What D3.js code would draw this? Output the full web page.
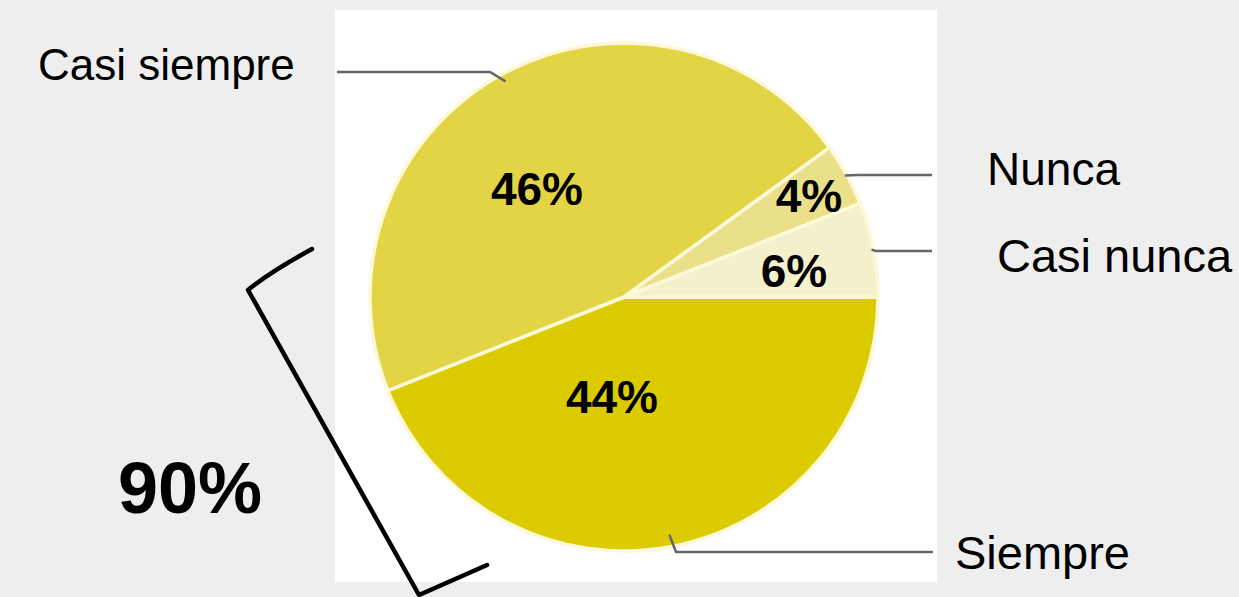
<!DOCTYPE html>
<html>
<head>
<meta charset="utf-8">
<script src="https://cdn.jsdelivr.net/npm/d3@7"></script>
<style>
  html, body { margin: 0; padding: 0; background: #eeeeee; }
  svg { display: block; }
</style>
</head>
<body>
<svg id="chart" width="1239" height="597"></svg>
<script>
// ---- data ----
const categories = ["Siempre", "Casi siempre", "Nunca", "Casi nunca"];
const values = [44, 46, 4, 6];
const percentLabels = ["44%", "46%", "4%", "6%"];
const groupLabel = "90%";
const colors = ["#dccb00", "#e2d445", "#ebe08a", "#f5f0cc"];

// ---- layout ----
const W = 1239, H = 597;
const cx = 624, cy = 297, R = 254;
const svg = d3.select("#chart");

svg.append("rect").attr("width", W).attr("height", H).attr("fill", "#eeeeee");
svg.append("rect").attr("x", 335).attr("y", 10).attr("width", 602).attr("height", 572).attr("fill", "#ffffff");

const pie = d3.pie().sort(null).value(d => d)
  .startAngle(Math.PI / 2).endAngle(Math.PI / 2 + 2 * Math.PI);
const arcs = pie(values);
const arc = d3.arc().innerRadius(0).outerRadius(R);

const g = svg.append("g").attr("transform", `translate(${cx},${cy})`);
g.selectAll("path.slice").data(arcs).join("path")
  .attr("class", "slice")
  .attr("d", arc)
  .attr("fill", (d, i) => colors[i])
  .attr("stroke", "#fcf8d8")
  .attr("stroke-width", 3.5)
  .attr("stroke-linejoin", "round");

// percent labels (positions in page coords)
const pctPos = [
  { x: 612, y: 413 },
  { x: 537, y: 205 },
  { x: 809, y: 212 },
  { x: 794, y: 287 }
];
svg.selectAll("text.pct").data(arcs).join("text")
  .attr("class", "pct")
  .attr("x", (d, i) => pctPos[i].x)
  .attr("y", (d, i) => pctPos[i].y)
  .attr("text-anchor", "middle")
  .attr("font-family", "Liberation Sans, Arial, sans-serif")
  .attr("font-weight", "bold")
  .attr("font-size", 46)
  .attr("fill", "#000")
  .text((d, i) => percentLabels[i]);

// leader lines: from slice mid-angle point to elbow to horizontal end
const leader = [
  { r: 242, ex: 676, ey: 552, hx: 933 },
  { r: 246, ex: 490, ey: 72, hx: 337 },
  { r: 252, ex: 858, ey: 175, hx: 932 },
  { r: 252, ex: 876, ey: 251, hx: 932 }
];
svg.selectAll("path.leader").data(arcs).join("path")
  .attr("class", "leader")
  .attr("d", (d, i) => {
    const a = (d.startAngle + d.endAngle) / 2;
    const L = leader[i];
    const sx = cx + L.r * Math.sin(a);
    const sy = cy - L.r * Math.cos(a);
    return `M${sx},${sy}L${L.ex},${L.ey}L${L.hx},${L.ey}`;
  })
  .attr("fill", "none")
  .attr("stroke", "#666666")
  .attr("stroke-width", 2.5);

// category labels
const catPos = [
  { x: 955, y: 569, s: 47 },
  { x: 38, y: 80, s: 44 },
  { x: 987, y: 185, s: 46 },
  { x: 997, y: 272, s: 47 }
];
svg.selectAll("text.cat").data(categories).join("text")
  .attr("class", "cat")
  .attr("x", (d, i) => catPos[i].x)
  .attr("y", (d, i) => catPos[i].y)
  .attr("font-family", "Liberation Sans, Arial, sans-serif")
  .attr("font-size", (d, i) => catPos[i].s)
  .attr("fill", "#000")
  .text(d => d);

// bracket
svg.append("path")
  .attr("d", "M312,249 Q270,272 248,290 L419,595 L487,565")
  .attr("fill", "none")
  .attr("stroke", "#000")
  .attr("stroke-width", 4.5)
  .attr("stroke-linejoin", "round")
  .attr("stroke-linecap", "round");

svg.append("text")
  .attr("x", 118).attr("y", 513)
  .attr("font-family", "Liberation Sans, Arial, sans-serif")
  .attr("font-weight", "bold")
  .attr("font-size", 72)
  .attr("fill", "#000")
  .text(groupLabel);
</script>
</body>
</html>
